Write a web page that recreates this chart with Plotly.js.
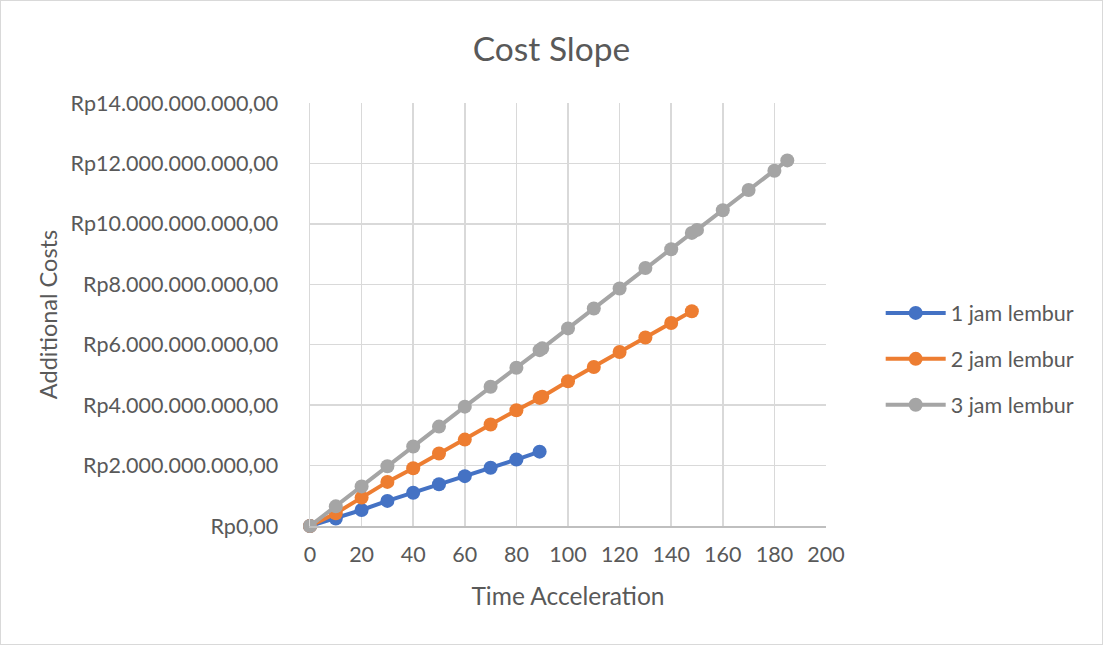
<!DOCTYPE html>
<html>
<head>
<meta charset="utf-8">
<script src="https://cdn.plot.ly/plotly-3.0.1.min.js"></script>
<style>
html,body{margin:0;padding:0;background:#fff;}
#wrap{width:1103px;height:645px;box-sizing:border-box;border:1px solid #d9d9d9;}
#chart{width:1101px;height:643px;}
</style>
</head>
<body>
<div id="wrap"><div id="chart"></div></div>
<script>
// Data (values in Rupiah)
const seriesNames = ["1 jam lembur", "2 jam lembur", "3 jam lembur"];
const x1 = [0, 10, 20, 30, 40, 50, 60, 70, 80, 89];
const y1 = [0, 0.25e9, 0.53e9, 0.83e9, 1.10e9, 1.38e9, 1.65e9, 1.93e9, 2.20e9, 2.46e9];
const x2 = [0, 10, 20, 30, 40, 50, 60, 70, 80, 89, 90, 100, 110, 120, 130, 140, 148];
const y2 = [0, 0.42e9, 0.94e9, 1.46e9, 1.91e9, 2.40e9, 2.86e9, 3.36e9, 3.83e9, 4.24e9, 4.28e9, 4.79e9, 5.26e9, 5.76e9, 6.24e9, 6.72e9, 7.11e9];
const x3 = [0, 10, 20, 30, 40, 50, 60, 70, 80, 89, 90, 100, 110, 120, 130, 140, 148, 150, 160, 170, 180, 185];
const y3 = [0, 0.65e9, 1.31e9, 1.98e9, 2.63e9, 3.29e9, 3.95e9, 4.61e9, 5.24e9, 5.82e9, 5.88e9, 6.54e9, 7.20e9, 7.86e9, 8.54e9, 9.16e9, 9.70e9, 9.80e9, 10.45e9, 11.12e9, 11.76e9, 12.10e9];
const colors = ["#4472C4", "#ED7D31", "#A5A5A5"];
const yTickVals = [0, 2e9, 4e9, 6e9, 8e9, 10e9, 12e9, 14e9];
const yTickText = ["Rp0,00", "Rp2.000.000.000,00", "Rp4.000.000.000,00", "Rp6.000.000.000,00", "Rp8.000.000.000,00", "Rp10.000.000.000,00", "Rp12.000.000.000,00", "Rp14.000.000.000,00"];
const xTickVals = [0, 20, 40, 60, 80, 100, 120, 140, 160, 180, 200];

const xs = [x1, x2, x3], ys = [y1, y2, y3];
const traces = xs.map((x, i) => ({
  x: x, y: ys[i], name: seriesNames[i], type: "scatter", mode: "lines+markers",
  legendgroup: "g" + i, cliponaxis: false,
  line: {color: colors[i], width: 4},
  marker: {color: colors[i], size: 14}
}));

const font = "Lato, 'Open Sans', sans-serif";
const layout = {
  width: 1101, height: 643,
  margin: {l: 309, r: 276, t: 102, b: 118},
  paper_bgcolor: "#fff", plot_bgcolor: "#fff",
  font: {family: font, color: "#595959", size: 21.5},
  title: {text: "Cost Slope", font: {family: font, size: 33.5, color: "#595959"}, x: 0.5, xanchor: "center", y: 0.925, yanchor: "middle"},
  xaxis: {
    range: [0, 200], tickvals: xTickVals, ticktext: xTickVals.map(String),
    showgrid: true, gridcolor: "#d9d9d9", gridwidth: 1.5, zeroline: false,
    showline: true, linecolor: "#bfbfbf", linewidth: 1.5, ticks: "",
    ticklabelstandoff: 9,
    tickfont: {size: 21.5, color: "#595959"},
    title: {text: "Time Acceleration", font: {size: 24.5, color: "#595959"}, standoff: 21}
  },
  yaxis: {
    range: [0, 14e9], tickvals: yTickVals, ticktext: yTickText,
    showgrid: true, gridcolor: "#d9d9d9", gridwidth: 1.5, zeroline: false,
    showline: true, linecolor: "#d9d9d9", linewidth: 1.5, ticks: "", ticklabelstandoff: 26,
    tickfont: {size: 21.5, color: "#595959"},
    title: {text: "Additional Costs", font: {size: 23.5, color: "#595959"}, standoff: 6}
  },
  showlegend: true,
  legend: {x: 1.106, xanchor: "left", y: 0.395, yanchor: "middle", tracegroupgap: 15,
    font: {size: 21.5, color: "#595959"}, itemwidth: 60, bgcolor: "rgba(0,0,0,0)"}
};

Plotly.newPlot("chart", traces, layout, {displayModeBar: false, staticPlot: true});
</script>
</body>
</html>
